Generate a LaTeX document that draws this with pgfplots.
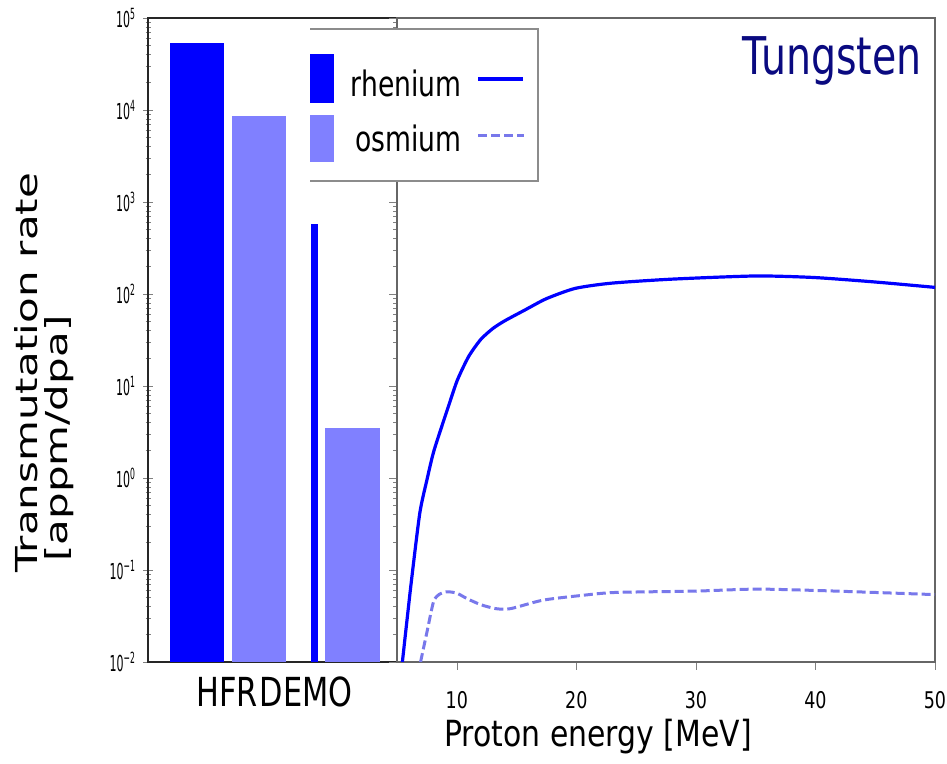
\documentclass[border=0pt]{standalone}
\usepackage{fontspec}
\setmainfont{DejaVu Sans}[FakeStretch=0.76]
\newfontfamily\ylfont{DejaVu Sans}
\newfontfamily\ytfont{DejaVu Sans}[FakeStretch=0.5]
\newfontfamily\xlfont{DejaVu Sans}[FakeStretch=0.83]
\usepackage{pgfplots}
\pgfplotsset{compat=1.18}
\definecolor{re}{RGB}{0,0,255}
\definecolor{osbar}{RGB}{128,128,255}
\definecolor{osline}{RGB}{120,120,235}
\definecolor{tung}{RGB}{10,10,128}
\begin{document}
\begin{tikzpicture}[x=1pt,y=1pt]
\path[use as bounding box] (0,0) rectangle (473.5,382);

% left panel: bars (x in picture units)
\begin{axis}[
  at={(74pt,51pt)}, anchor=south west,
  width=124.5pt, height=322pt, scale only axis,
  xmin=148, xmax=397,
  ymode=log, ymin=1e-2, ymax=1e5, log origin=infty,
  xtick={227,306}, xticklabels={HFR,DEMO},
  xtick style={draw=none},
  xticklabel style={font=\fontsize{20}{24}\selectfont, anchor=base, yshift=-20pt},
  ytick={1e-2,1e-1,1,10,100,1e3,1e4,1e5},
  yticklabels={10\textsuperscript{−2},10\textsuperscript{−1},10\textsuperscript{0},10\textsuperscript{1},10\textsuperscript{2},10\textsuperscript{3},10\textsuperscript{4},10\textsuperscript{5}},
  yticklabel style={font=\ytfont\fontsize{11}{13}\selectfont},
  ytick pos=left, tick align=center,
  major tick length=5pt, minor tick length=2.5pt,
  axis line style={black!85, line width=0.8pt},
]
\addplot[ybar, bar width=54, bar shift=0pt, fill=re, draw=none] coordinates {(197,5.3e4)};
\addplot[ybar, bar width=54, bar shift=0pt, fill=osbar, draw=none] coordinates {(259,8.7e3)};
\addplot[ybar, bar width=7, bar shift=0pt, fill=re, draw=none] coordinates {(314.5,575)};
\addplot[ybar, bar width=55, bar shift=0pt, fill=osbar, draw=none] coordinates {(352.5,3.5)};
\end{axis}

% right panel: rates vs proton energy
\begin{axis}[
  at={(198.5pt,51pt)}, anchor=south west,
  width=269pt, height=322pt, scale only axis,
  xmin=5, xmax=50,
  ymode=log, ymin=1e-2, ymax=1e5,
  xtick={10,20,30,40,50},
  /pgf/number format/assume math mode=true,
  xticklabel style={font=\fontsize{11.5}{13}\selectfont, anchor=base, yshift=-19.5pt},
  yticklabels={},
  yticklabel style={opacity=0},
  xtick pos=bottom, ytick pos=left,
  tick align=outside,
  major tick length=4pt, minor tick length=2pt,
  axis line style={black!60, line width=0.9pt},
]
\addplot[re, line width=1.6pt, smooth, tension=0.4] coordinates {
(5.45,0.01) (6.15,0.066) (6.9,0.41) (7.5,0.95) (8.1,2.0) (9.3,6.0) (10.05,11.6)
(11,21) (12,32) (13,42) (14,51) (15.7,67) (17.5,89) (19.9,115) (22.9,131)
(28,145) (35,157) (39.9,151) (45,135) (50,118)};
\addplot[osline, line width=1.5pt, dash pattern=on 4.5pt off 2pt, smooth, tension=0.4] coordinates {
(6.97,0.01) (7.5,0.021) (8.05,0.045) (8.5,0.054) (9.17,0.058) (10,0.056)
(10.84,0.049) (12,0.042) (13.27,0.038) (14.5,0.038) (17.2,0.047) (20.5,0.053)
(23.25,0.057) (30,0.059) (35,0.062) (39.9,0.060) (45,0.057) (50,0.054)};
\end{axis}

\node[inner sep=0pt, anchor=base east, text=tung, font=\fontsize{26}{30}\selectfont] at (461,344.5) {Tungsten};
\node[inner sep=0pt, anchor=base, font=\xlfont\fontsize{18}{22}\selectfont] at (299,8.5) {Proton energy [MeV]};
\node[inner sep=0pt, xscale=0.72, rotate=90, anchor=base west, font=\ylfont\fontsize{21}{25}\selectfont] at (18.5,95.5) {Transmutation rate};
\node[inner sep=0pt, xscale=0.72, rotate=90, anchor=base west, font=\ylfont\fontsize{21}{25}\selectfont] at (33.5,101) {[appm/dpa]};

% legend
\fill[white] (155,291.5) rectangle (269,367.5);
\draw[black!45, line width=0.7pt] (155,367.5) -- (269,367.5) -- (269,291.5) -- (155,291.5);
\fill[re] (155,330.5) rectangle (167,355);
\fill[osbar] (155,301) rectangle (167,324.5);
\node[inner sep=0pt, anchor=base east, font=\fontsize{17.5}{21}\selectfont] at (231,333.5) {rhenium};
\node[inner sep=0pt, anchor=base east, font=\fontsize{17.5}{21}\selectfont] at (231,306) {osmium};
\draw[re, line width=1.6pt] (239,342.5) -- (261.5,342.5);
\draw[osline, line width=1.5pt, dash pattern=on 4.5pt off 2pt] (239,314) -- (262,314);
\end{tikzpicture}
\end{document}
